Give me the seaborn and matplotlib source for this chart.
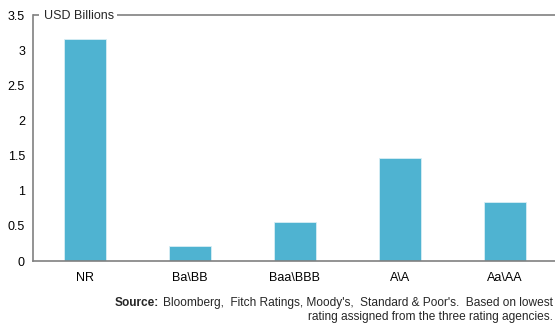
import matplotlib
matplotlib.use("Agg")
import matplotlib.pyplot as plt
import seaborn as sns
import pandas as pd

categories = ["NR", "Ba\\BB", "Baa\\BBB", "A\\A", "Aa\\AA"]
values = [3.16, 0.21, 0.555, 1.465, 0.84]
yticks = [0, 0.5, 1, 1.5, 2, 2.5, 3, 3.5]
ytick_labels = ["0", "0.5", "1", "1.5", "2", "2.5", "3", "3.5"]

sns.set_theme(style="white")
plt.rcParams["font.family"] = ["Liberation Sans", "DejaVu Sans"]

W, H = 555, 323
fig = plt.figure(figsize=(W / 100, H / 100), dpi=100)
fig.patch.set_facecolor("white")

# axes box in pixel coordinates (right edge runs past the canvas)
left, right, top, bottom = 33, 557, 15, 261
ax = fig.add_axes([left / W, 1 - bottom / H, (right - left) / W, (bottom - top) / H])

df = pd.DataFrame({"rating": categories, "value": values})
sns.barplot(data=df, x="rating", y="value", color="#4FB3D1", saturation=1,
            width=0.4, edgecolor="#D8EEF5", linewidth=0.6, ax=ax)

ax.set_xlim(-0.5, 4.5)
ax.set_ylim(0, 3.5)
ax.set_yticks(yticks)
ax.set_yticklabels(ytick_labels)
ax.set_xlabel("")
ax.set_ylabel("")
ax.tick_params(axis="both", length=0, labelsize=9, colors="#000000")
ax.tick_params(axis="y", pad=5.8)
ax.tick_params(axis="x", pad=8)

for s in ["top", "right"]:
    ax.spines[s].set_visible(False)
for s in ["left", "bottom"]:
    ax.spines[s].set_color("#808080")
    ax.spines[s].set_linewidth(1.2)

# top rule with a gap for the unit label
axis_color = "#808080"
span = right - left
ax.plot([0, 6 / span], [1, 1], transform=ax.transAxes, color=axis_color,
        lw=1.2, clip_on=False, solid_capstyle="butt")
ax.plot([(117 - left) / span, 1.02], [1, 1], transform=ax.transAxes,
        color=axis_color, lw=1.2, clip_on=False, solid_capstyle="butt")
fig.text(44 / W, 1 - 16 / H, "USD Billions", fontsize=9, va="center", ha="left")

# source note, right-aligned to the canvas edge
fs = 8.6
xr = (W - 2) / W
y1, y2 = 1 - 303 / H, 1 - 317 / H
line1 = fig.text(xr, y1,
                 "Bloomberg,  Fitch Ratings, Moody's,  Standard & Poor's.  Based on lowest",
                 fontsize=fs, va="center", ha="right")
fig.text(xr, y2, "rating assigned from the three rating agencies.",
         fontsize=fs, va="center", ha="right")
fig.canvas.draw()
x0 = line1.get_window_extent(fig.canvas.get_renderer()).x0
fig.text((x0 - 4) / W, y1, "Source:", fontsize=fs, fontweight="bold",
         va="center", ha="right")

fig.savefig("out.png", dpi=100, facecolor="white")
